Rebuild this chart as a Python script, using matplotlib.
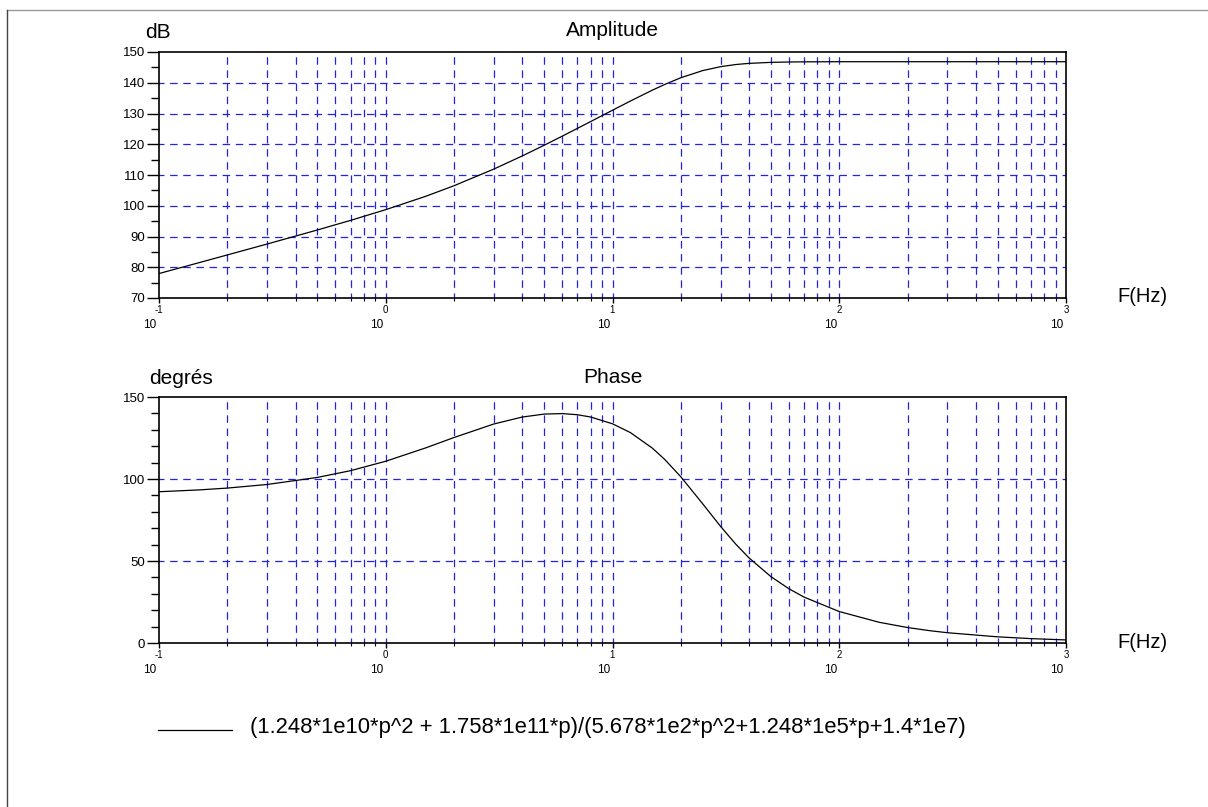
import numpy as np
import matplotlib
matplotlib.use('Agg')
import matplotlib.pyplot as plt
from matplotlib.ticker import LogLocator, MultipleLocator, NullFormatter
from matplotlib.lines import Line2D

plt.rcParams['font.family'] = ['Liberation Sans', 'DejaVu Sans']

# Values
freq = [0.1, 0.15, 0.2, 0.3, 0.5, 0.7, 1, 1.5, 2, 3, 4, 5, 6, 7, 8, 10, 12, 15, 17, 20,
        25, 30, 35, 40, 50, 60, 70, 100, 150, 200, 250, 300, 500, 700, 1000]
amp_db = [77.95, 81.48, 84.00, 87.56, 92.13, 95.25, 98.73, 103.07, 106.51, 111.94,
          116.20, 119.69, 122.62, 125.15, 127.36, 131.06, 134.06, 137.60, 139.45, 141.62,
          143.96, 145.24, 145.93, 146.30, 146.63, 146.75, 146.80, 146.84, 146.84, 146.84,
          146.84, 146.84, 146.84, 146.84, 146.84]
phase_deg = [92.23, 93.35, 94.46, 96.66, 100.97, 105.09, 110.83, 118.97, 125.30, 133.56,
             137.78, 139.59, 139.89, 139.19, 137.81, 133.66, 128.28, 118.79, 111.92, 101.39,
             84.85, 71.02, 60.20, 51.91, 40.43, 33.06, 27.97, 19.18, 12.63, 9.43,
             7.53, 6.27, 3.75, 2.68, 1.87]
decades = [-1, 0, 1, 2, 3]
legend_text = '(1.248*1e10*p^2 + 1.758*1e11*p)/(5.678*1e2*p^2+1.248*1e5*p+1.4*1e7)'

W, H = 1208, 807
fig = plt.figure(figsize=(W / 100, H / 100), dpi=100)

grid_kw = dict(color='#2424dc', lw=0.9, ls=(2, (6, 4.5)), zorder=1)


def px_axes(left, top, right, bottom):
    return fig.add_axes([left / W, 1 - bottom / H, (right - left) / W, (bottom - top) / H])


def setup(ax, ylo, yhi, ymaj, ymin, ygrid):
    ax.set_xscale('log')
    ax.set_xlim(0.1, 1000)
    ax.set_ylim(ylo, yhi)
    ax.xaxis.set_major_locator(LogLocator(base=10, numticks=10))
    ax.xaxis.set_minor_locator(LogLocator(base=10, subs=np.arange(2, 10), numticks=20))
    ax.xaxis.set_major_formatter(NullFormatter())
    ax.xaxis.set_minor_formatter(NullFormatter())
    ax.yaxis.set_major_locator(MultipleLocator(ymaj))
    ax.yaxis.set_minor_locator(MultipleLocator(ymin))
    ax.tick_params(axis='x', which='major', direction='out', length=3.5, width=1)
    ax.tick_params(axis='x', which='minor', direction='out', length=2.5, width=0.8)
    ax.tick_params(axis='y', which='major', direction='out', length=8.5, width=1,
                   labelsize=9.5, pad=1.5)
    ax.tick_params(axis='y', which='minor', direction='out', length=5.5, width=1)
    for s in ax.spines.values():
        s.set_linewidth(1.2)
    # dashed blue grid
    for e in decades[:-1]:
        for k in range(1, 10):
            if k == 1 and e == decades[0]:
                continue
            ax.axvline(k * 10.0 ** e, **grid_kw)
    for yv in ygrid:
        ax.axhline(yv, **grid_kw)
    # Scilab style decade labels: exponent above, "10" below
    for e in decades:
        ax.annotate(str(e), xy=(10.0 ** e, 0), xycoords=('data', 'axes fraction'),
                    xytext=(0, -12), textcoords='offset pixels', ha='center', va='center',
                    fontsize=7)
        ax.annotate('10', xy=(10.0 ** e, 0), xycoords=('data', 'axes fraction'),
                    xytext=(-9, -27), textcoords='offset pixels', ha='center', va='center',
                    fontsize=8.5)


ax1 = px_axes(159, 52, 1066, 298)
setup(ax1, 70, 150, 10, 5, range(80, 150, 10))
ax1.plot(freq, amp_db, color='black', lw=0.9, zorder=3)

ax2 = px_axes(159, 397, 1066, 643)
setup(ax2, 0, 150, 50, 10, [50, 100])
ax2.plot(freq, phase_deg, color='black', lw=0.9, zorder=3)

# titles and axis names
fs = 15
fig.text(612.5 / W, 1 - 31 / H, 'Amplitude', ha='center', va='center', fontsize=fs)
fig.text(145 / W, 1 - 32 / H, 'dB', ha='left', va='center', fontsize=fs)
fig.text(612.5 / W, 1 - 378 / H, 'Phase', ha='center', va='center', fontsize=fs)
fig.text(149 / W, 1 - 379 / H, 'degrés', ha='left', va='center', fontsize=fs)
fig.text(1117 / W, 1 - 297 / H, 'F(Hz)', ha='left', va='center', fontsize=14.5)
fig.text(1117 / W, 1 - 642 / H, 'F(Hz)', ha='left', va='center', fontsize=14.5)

# legend
fig.add_artist(Line2D([158 / W, 232 / W], [1 - 730 / H, 1 - 730 / H], color='black', lw=0.9))
fig.text(250 / W, 1 - 727 / H, legend_text, ha='left', va='center', fontsize=15.8)

# thin frame at top and left of the picture
fig.add_artist(Line2D([7 / W, 1], [1 - 10 / H, 1 - 10 / H], color='#999999', lw=1))
fig.add_artist(Line2D([7 / W, 7 / W], [0, 1 - 10 / H], color='#444444', lw=1))

fig.savefig('out.png', dpi=100)
